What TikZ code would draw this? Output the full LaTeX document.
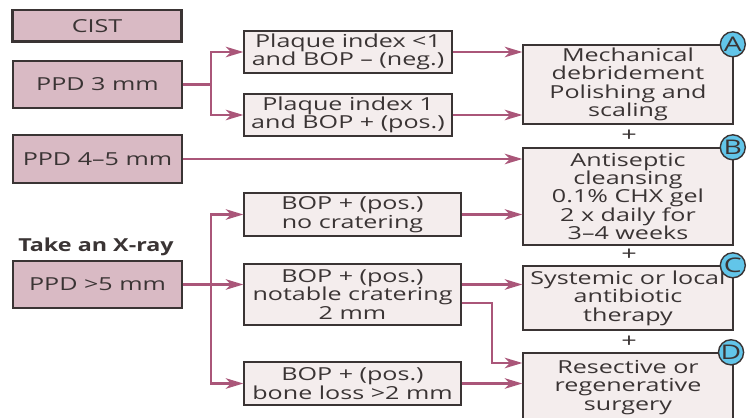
\documentclass[tikz,border=0pt]{standalone}
\usepackage{fontspec}
\setmainfont{Open Sans}[FakeStretch=1.4]
\newfontfamily\headfont{Open Sans}[FakeStretch=1.3]
\usetikzlibrary{positioning, arrows.meta}

\definecolor{caseRose}{HTML}{D9BAC4}
\definecolor{stepPaper}{HTML}{F4EDED}
\definecolor{flowRose}{HTML}{AA5679}
\definecolor{badgeBlue}{HTML}{62C5E9}
\definecolor{inkGrey}{HTML}{3A3434}

\tikzset{
    casebox/.style={draw=inkGrey, line width=0.8pt, fill=caseRose, text=inkGrey,
        minimum width=3.38cm, inner sep=0pt},
    stepbox/.style={draw=inkGrey, line width=0.8pt, fill=stepPaper, text=inkGrey,
        align=center, inner sep=0pt},
    treatbox/.style={stepbox, minimum width=4.2cm},
    badge/.style={circle, draw=inkGrey, line width=0.8pt, fill=badgeBlue, text=inkGrey,
        minimum size=0.5cm, inner sep=0pt, font=\fontsize{11.5}{11.5}\selectfont},
    plus/.style={text=inkGrey, inner sep=0pt, font=\fontsize{11}{11}\selectfont},
    link/.style={draw=flowRose, line width=1.2pt},
    arrow/.style={link, -{Stealth[length=10pt, width=6pt, inset=3pt]}},
}

\begin{document}
\begin{tikzpicture}[x=0.02cm, y=-0.02cm, font=\fontsize{10.2}{10.5}\selectfont]
    \useasboundingbox (0,0) rectangle (750,418);

    %Conditions
    \node[casebox, line width=1.7pt, minimum width=3.4cm, minimum height=0.64cm] (CIST) at (97,26) {CIST};
    \node[casebox, minimum height=0.94cm] (PPD3) at (97.5,84.5) {PPD 3 mm};
    \node[casebox, minimum height=0.96cm] (PPD45) at (97.5,159) {PPD 4--5 mm};
    \node[text=inkGrey, font=\fontsize{10.2}{10.5}\headfont\bfseries] (XRay) at (96,247) {Take an X-ray};
    \node[casebox, minimum height=0.94cm] (PPD5) at (97.5,284.5) {PPD >5 mm};

    %Findings
    \node[stepbox, minimum width=4.16cm, minimum height=0.84cm] (PlaqueNeg) at (348,52)
        {Plaque index <1\\and BOP -- (neg.)};
    \node[stepbox, minimum width=4.16cm, minimum height=0.84cm] (PlaquePos) at (348,115)
        {Plaque index 1\\and BOP + (pos.)};
    \node[stepbox, minimum width=4.34cm, minimum height=0.86cm] (BOPNo) at (352.5,214.5)
        {BOP + (pos.)\\no cratering};
    \node[stepbox, minimum width=4.34cm, minimum height=1.22cm] (BOPCrater) at (352.5,294.5)
        {BOP + (pos.)\\notable cratering\\2 mm};
    \node[stepbox, minimum width=4.34cm, minimum height=0.86cm] (BOPLoss) at (352.5,383.5)
        {BOP + (pos.)\\bone loss >2 mm};

    %Treatments
    \node[treatbox, minimum height=1.58cm] (Mechanical) at (628,84.5)
        {Mechanical\\debridement\\Polishing and\\scaling};
    \node[treatbox, minimum height=1.94cm] (Antiseptic) at (628,196.5)
        {Antiseptic\\cleansing\\0.1\% CHX gel\\2 x daily for\\3--4 weeks};
    \node[treatbox, minimum height=1.28cm] (Systemic) at (628,298)
        {Systemic or local\\antibiotic\\therapy};
    \node[treatbox, minimum height=1.38cm] (Resective) at (628,387.5)
        {Resective or\\regenerative\\surgery};

    \node[plus] (Plus_AB) at (629,136) {+};
    \node[plus] (Plus_BC) at (629,255) {+};
    \node[plus] (Plus_CD) at (629,342) {+};

    \node[badge] (Badge_A) at ([xshift=-0.5pt]Mechanical.north east) {A};
    \node[badge] (Badge_B) at ([xshift=-0.5pt]Antiseptic.north east) {B};
    \node[badge] (Badge_C) at ([xshift=-0.5pt]Systemic.north east) {C};
    \node[badge] (Badge_D) at ([xshift=-1.5pt]Resective.north east) {D};

    \path (PPD3.east) ++(28,0) coordinate (Split_PPD3);
    \path (PPD5.east) ++(28,0) coordinate (Split_PPD5);
    \coordinate (Crater_Drop) at (492,363);

    %Lines
    \draw[link] (PPD3.east) -- (Split_PPD3);
    \draw[arrow] (Split_PPD3) |- (PlaqueNeg.west);
    \draw[arrow] (Split_PPD3) |- (PlaquePos.west);

    \draw[arrow] (PlaqueNeg.east) -- (PlaqueNeg.east -| Mechanical.west);
    \draw[arrow] (PlaquePos.east) -- (PlaquePos.east -| Mechanical.west);

    \draw[arrow] (PPD45.east) -- (PPD45.east -| Antiseptic.west);

    \draw[arrow] (PPD5.east) -- (PPD5.east -| BOPCrater.west);
    \draw[arrow] (Split_PPD5) |- (BOPNo.west);
    \draw[arrow] (Split_PPD5) |- (BOPLoss.west);

    \draw[arrow] (BOPNo.east) -- (BOPNo.east -| Antiseptic.west);
    \draw[arrow] (BOPCrater.east |- PPD5.east) -- (PPD5.east -| Systemic.west);
    \draw[arrow] ([yshift=-5pt]BOPCrater.east) -| (Crater_Drop) -- (Crater_Drop -| Resective.west);
    \draw[arrow] (BOPLoss.east) -- (BOPLoss.east -| Resective.west);
\end{tikzpicture}
\end{document}
